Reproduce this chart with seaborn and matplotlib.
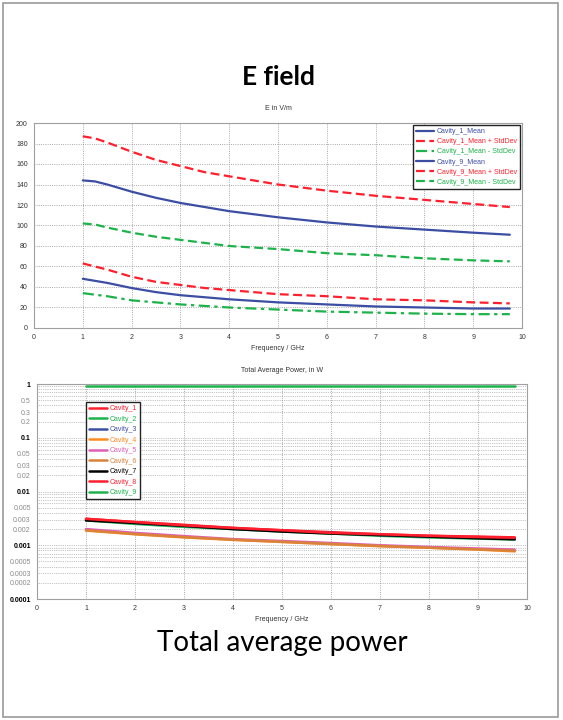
import numpy as np
import pandas as pd
import matplotlib
matplotlib.use("Agg")
from matplotlib import pyplot as plt
from matplotlib import ticker
from matplotlib.patches import Rectangle
import seaborn as sns

# frequency points (GHz)
freq_e = [1, 1.25, 1.5, 2, 2.5, 3, 3.5, 4, 5, 6, 7, 8, 9, 9.75]

# E field in V/m
cav1_mean = [48, 46, 44, 39, 35, 32, 30, 28, 25, 23, 21, 20, 19, 19]
cav1_plus = [63, 60, 57, 50, 45, 42, 39, 37, 33, 31, 28, 27, 25, 24]
cav1_minus = [34, 32.5, 31, 27, 25, 23, 21.5, 20, 18, 16, 15, 14, 13.5, 13.5]
cav9_mean = [144, 143, 140, 133, 127, 122, 118, 114, 108, 103, 99, 96, 93, 91]
cav9_plus = [187, 185, 181, 172, 164, 158, 152, 148, 140, 134, 129, 125, 121, 118]
cav9_minus = [102, 101, 98, 93, 89, 86, 83, 80, 77, 73, 71, 68, 66, 65]

# frequency points (GHz) for the power curves
freq_p = [1, 2, 3, 4, 5, 6, 7, 8, 9, 9.75]

# total average power in W
pw_cav1 = [0.0031, 0.0027, 0.0024, 0.0021, 0.0019, 0.00175, 0.0016, 0.0015, 0.00145, 0.0014]
pw_cav2 = [0.0029, 0.0025, 0.0022, 0.0020, 0.0018, 0.00165, 0.0015, 0.0014, 0.00133, 0.00128]
pw_cav3 = [0.0030, 0.0026, 0.0023, 0.00205, 0.00185, 0.0017, 0.00155, 0.00145, 0.00138, 0.00133]
pw_cav4 = [0.00188, 0.0016, 0.0014, 0.00126, 0.00115, 0.00105, 0.00096, 0.0009, 0.00083, 0.00077]
pw_cav5 = [0.0020, 0.0017, 0.00148, 0.0013, 0.0012, 0.0011, 0.0010, 0.00093, 0.00087, 0.00083]
pw_cav6 = [0.0019, 0.00162, 0.00142, 0.00127, 0.00116, 0.00106, 0.00097, 0.0009, 0.00084, 0.00079]
pw_cav7 = [0.0029, 0.0026, 0.0023, 0.0020, 0.0018, 0.00165, 0.00155, 0.00145, 0.00135, 0.00129]
pw_cav8 = [0.0031, 0.0027, 0.00235, 0.0021, 0.0019, 0.0017, 0.0016, 0.0015, 0.00142, 0.00138]
pw_cav9 = [0.93, 0.93, 0.93, 0.93, 0.93, 0.93, 0.93, 0.93, 0.93, 0.93]

BLUE = "#3b4ea3"
RED = "#ff1f2d"
GREEN = "#1db34a"
SMALL = ["Liberation Sans", "DejaVu Sans"]

sns.set_style("white")
plt.rcParams["font.family"] = SMALL

fig = plt.figure(figsize=(5.63, 7.2), dpi=100)
fig.patches.append(Rectangle((3 / 563, 3 / 720), 555 / 563, 714 / 720,
                             transform=fig.transFigure, fill=False,
                             edgecolor="#9a9a9a", linewidth=1.2))

fig.text(0.495, 1 - 77 / 720, "E field", ha="center", va="center", color="black",
         fontsize=19, fontweight="bold", family=["Lato", "DejaVu Sans"])
fig.text(0.502, 1 - 643 / 720, "Total average power", ha="center", va="center",
         color="black", fontsize=20, family=["Lato", "DejaVu Sans"])


def style_axes(ax):
    for sp in ax.spines.values():
        sp.set_color("#a0a0a0")
        sp.set_linewidth(0.8)
    ax.tick_params(axis="both", which="both", direction="out", length=2.5,
                   width=0.6, color="#888888", labelsize=5, labelcolor="#333333", pad=2)
    ax.set_xlim(0, 10)
    ax.set_xticks(range(0, 11))
    ax.set_xlabel("Frequency / GHz", fontsize=5, color="#333333", labelpad=3)


def color_legend(leg):
    leg.get_frame().set_linewidth(1.0)
    for t, l in zip(leg.get_texts(), leg.get_lines()):
        t.set_color(l.get_color())


# ---- E field ----
ax1 = fig.add_axes([34 / 563, 1 - 328 / 720, 488 / 563, 205 / 720])
e_series = [
    (cav1_mean, BLUE, "-", "Cavity_1_Mean"),
    (cav1_plus, RED, (0, (4, 2)), "Cavity_1_Mean + StdDev"),
    (cav1_minus, GREEN, (0, (5, 2, 1.5, 2)), "Cavity_1_Mean - StdDev"),
    (cav9_mean, BLUE, "-", "Cavity_9_Mean"),
    (cav9_plus, RED, (0, (4, 2)), "Cavity_9_Mean + StdDev"),
    (cav9_minus, GREEN, (0, (4, 2)), "Cavity_9_Mean - StdDev"),
]
for vals, col, ls, lab in e_series:
    sns.lineplot(x=freq_e, y=vals, ax=ax1, color=col, linestyle=ls, linewidth=1.6, label=lab)
ax1.set_ylim(0, 200)
ax1.set_yticks(range(0, 201, 20))
ax1.grid(True, linestyle=":", color="#8c8c8c", linewidth=0.6)
style_axes(ax1)
ax1.set_title("E in V/m", fontsize=5, color="#333333", pad=9)
leg1 = ax1.legend(loc="upper right", fontsize=5, frameon=True, fancybox=False,
                  edgecolor="#222222", framealpha=1, handlelength=2.6,
                  handletextpad=0.4, borderaxespad=0.3, labelspacing=0.45,
                  borderpad=0.45)
color_legend(leg1)

# ---- total average power ----
ax2 = fig.add_axes([37 / 563, 1 - 599 / 720, 490 / 563, 215 / 720])
p_series = [
    (pw_cav1, RED, "Cavity_1"),
    (pw_cav2, GREEN, "Cavity_2"),
    (pw_cav3, BLUE, "Cavity_3"),
    (pw_cav4, "#ff8a1e", "Cavity_4"),
    (pw_cav5, "#e05fb4", "Cavity_5"),
    (pw_cav6, "#d9823a", "Cavity_6"),
    (pw_cav7, "#000000", "Cavity_7"),
    (pw_cav8, RED, "Cavity_8"),
    (pw_cav9, GREEN, "Cavity_9"),
]
for vals, col, lab in p_series:
    sns.lineplot(x=freq_p, y=vals, ax=ax2, color=col, linewidth=1.8, label=lab)
ax2.set_yscale("log")
ax2.set_ylim(1e-4, 1)
ax2.yaxis.set_major_locator(ticker.FixedLocator([1e-4, 1e-3, 1e-2, 1e-1, 1]))
ax2.yaxis.set_major_formatter(ticker.FixedFormatter(["0.0001", "0.001", "0.01", "0.1", "1"]))
minor_locs = [m * 10.0 ** e for e in range(-4, 0) for m in range(2, 10)]
labelled = (2, 3, 5)
ax2.yaxis.set_minor_locator(ticker.FixedLocator(minor_locs))
ax2.yaxis.set_minor_formatter(ticker.FuncFormatter(
    lambda v, p: ("%g" % v) if round(v / 10 ** np.floor(np.log10(v) + 1e-9)) in labelled else ""))
ax2.grid(True, which="both", axis="y", linestyle=":", color="#8c8c8c", linewidth=0.5)
ax2.grid(True, which="major", axis="x", linestyle=":", color="#8c8c8c", linewidth=0.6)
style_axes(ax2)
ax2.tick_params(axis="y", which="major", labelcolor="#000000")
ax2.tick_params(axis="y", which="minor", labelcolor="#8a8a8a", labelsize=5)
for lbl in ax2.get_yticklabels():
    lbl.set_fontweight("bold")
ax2.set_title("Total Average Power, in W", fontsize=5, color="#333333", pad=9)
leg2 = ax2.legend(loc="upper left", bbox_to_anchor=(0.1, 0.915), fontsize=5,
                  frameon=True, fancybox=False, edgecolor="#222222", framealpha=1,
                  handlelength=2.6, handletextpad=0.4, borderaxespad=0,
                  labelspacing=0.5, borderpad=0.45)
color_legend(leg2)

fig.savefig("out.png", dpi=100)
